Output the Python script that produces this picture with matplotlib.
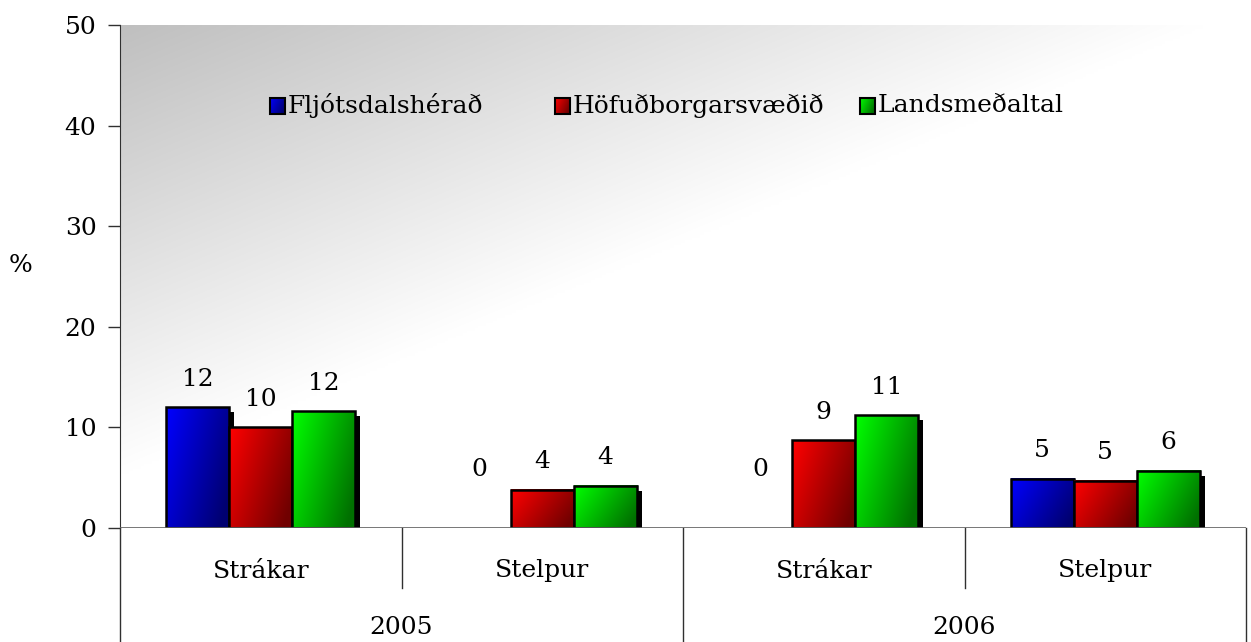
import matplotlib.pyplot as plt
import numpy as np
from matplotlib.patches import Rectangle
from matplotlib.lines import Line2D
from matplotlib.colors import to_rgb

plt.rcParams['font.family'] = ['DejaVu Serif']

years = ['2005', '2006']
groups = ['Strákar', 'Stelpur', 'Strákar', 'Stelpur']
series = ['Fljótsdalshérað', 'Höfuðborgarsvæðið', 'Landsmeðaltal']
fljotsdalsherad = [12.0, 0.0, 0.0, 4.9]
hofudborgarsvaedid = [10.0, 3.8, 8.7, 4.7]
landsmedaltal = [11.6, 4.2, 11.2, 5.7]
values = [fljotsdalsherad, hofudborgarsvaedid, landsmedaltal]

light = ['#0000ff', '#ff0000', '#00ff00']
dark = ['#000070', '#700000', '#007000']

W, H = 1251, 642
fig = plt.figure(figsize=(W / 100, H / 100), dpi=100)
ax = fig.add_axes([120 / W, 1 - 528 / H, 1126 / W, 503 / H])
ax.set_xlim(0, 4)
ax.set_ylim(0, 50)

# background gradient (grey top-left fading to white)
u, v = np.meshgrid(np.linspace(0, 1, 300), np.linspace(0, 1, 200))
g = np.clip(0.75 + 0.26 * u + 0.28 * v, 0, 1)
ax.imshow(np.dstack([g, g, g]), extent=[0, 4, 0, 50], aspect='auto',
          zorder=0, interpolation='bilinear')


def grad_img(c1, c2):
    uu, vv = np.meshgrid(np.linspace(0, 1, 40), np.linspace(0, 1, 40))
    t = np.clip(0.75 * uu + 0.35 * vv, 0, 1)[..., None]
    a, b = np.array(to_rgb(c1)), np.array(to_rgb(c2))
    return a * (1 - t) + b * t


bw = 0.224
sx = 5 / 281.5
sy = 0.5
for i in range(len(groups)):
    for k in range(3):
        val = values[k][i]
        x0 = i + 0.5 + (k - 1.5) * bw
        if val > 0:
            ax.add_patch(Rectangle((x0 + sx, 0), bw, max(val - sy, 0),
                                   facecolor='black', edgecolor='none', zorder=2 + k * 2))
            ax.imshow(grad_img(light[k], dark[k]), extent=[x0, x0 + bw, 0, val],
                      aspect='auto', zorder=3 + k * 2, interpolation='bilinear')
            ax.add_patch(Rectangle((x0, 0), bw, val, facecolor='none',
                                   edgecolor='black', lw=1.8, zorder=3.5 + k * 2))
        off = 42 if val == 0 else 20
        ax.annotate(f'{val:.0f}', (x0 + bw / 2, val), xytext=(0, off),
                    textcoords='offset points', ha='center', va='center',
                    fontsize=18, zorder=10)

ax.set_xlim(0, 4)
ax.set_ylim(0, 50)

for s in ['top', 'right', 'bottom']:
    ax.spines[s].set_visible(False)
ax.spines['left'].set_color('#303030')
ax.set_xticks([])
ax.set_yticks(range(0, 51, 10))
ax.tick_params(axis='y', length=9, width=1, color='#303030', labelsize=18, pad=8)
ax.axhline(0, color='#606060', lw=1.2, zorder=9)
ax.set_ylabel('%', rotation=0, fontsize=18)
ax.yaxis.set_label_coords(-0.088, 0.5)

# two-level category axis
tr = ax.get_xaxis_transform()
low = -114 / 503
ax.add_line(Line2D([0, 0], [0, low], transform=tr, color='#303030', lw=1, clip_on=False))
for xs, yb in [(1, -60 / 503), (2, low), (3, -60 / 503), (4, low)]:
    ax.add_line(Line2D([xs, xs], [0, yb], transform=tr, color='#303030', lw=1, clip_on=False))
for i, gname in enumerate(groups):
    ax.text(i + 0.5, -43 / 503, gname, transform=tr, ha='center', va='center', fontsize=18)
for j, yr in enumerate(years):
    ax.text(2 * j + 1, -100 / 503, yr, transform=tr, ha='center', va='center', fontsize=18)

# legend drawn by hand so the entries sit where the original has them
leg_x = [270, 555, 860]          # left edge of each key, in pixels
leg_y = 106
key = 15
for k, name in enumerate(series):
    xa = (leg_x[k] - 120) / 1126
    ya = (528 - leg_y) / 503
    kw, kh = key / 1126, key / 503
    ax.imshow(grad_img(light[k], dark[k]), extent=[xa, xa + kw, ya - kh / 2, ya + kh / 2],
              transform=ax.transAxes, aspect='auto', zorder=11, interpolation='bilinear')
    ax.add_patch(Rectangle((xa, ya - kh / 2), kw, kh, transform=ax.transAxes,
                           facecolor='none', edgecolor='black', lw=1.5, zorder=12))
    ax.text(xa + kw + 3 / 1126, ya, name, transform=ax.transAxes, ha='left',
            va='center', fontsize=18, zorder=12)

ax.set_xlim(0, 4)
ax.set_ylim(0, 50)

fig.savefig('out.png', dpi=100)
